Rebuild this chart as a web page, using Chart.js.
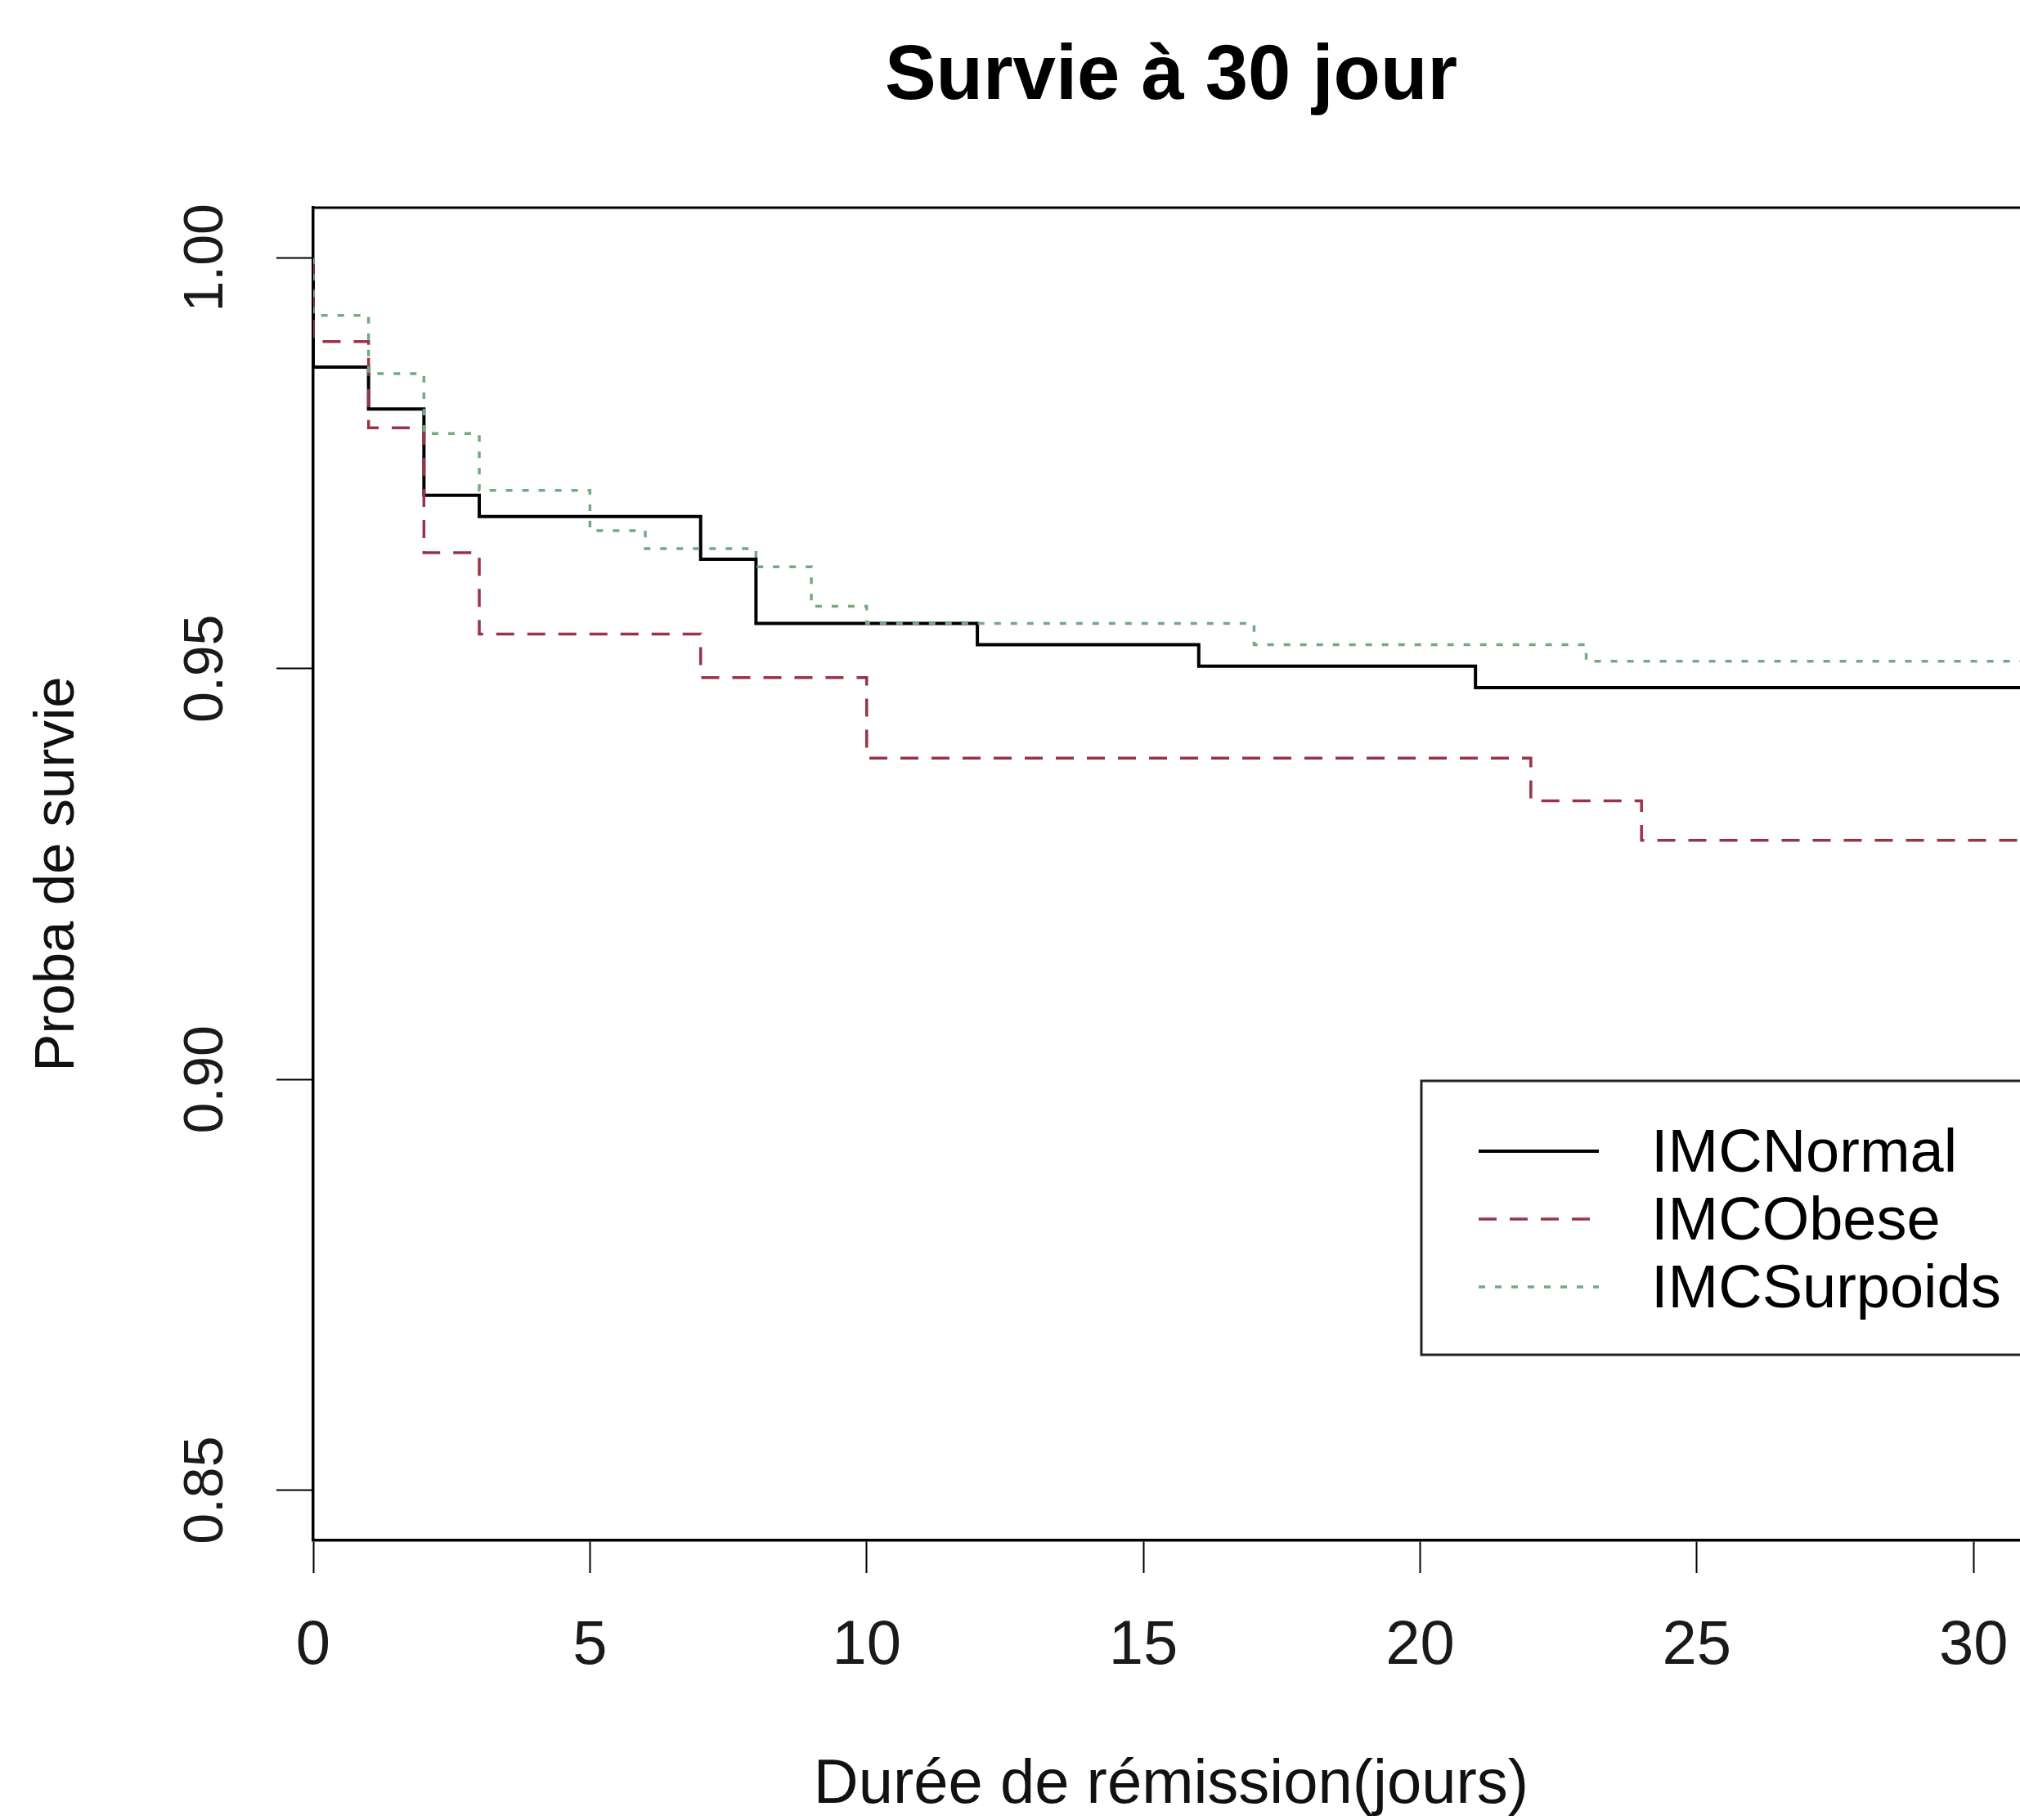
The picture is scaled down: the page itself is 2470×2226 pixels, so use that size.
<!DOCTYPE html>
<html>
<head>
<meta charset="utf-8">
<title>Survie à 30 jour</title>
<script src="https://cdn.jsdelivr.net/npm/chart.js@4.4.1/dist/chart.umd.min.js"></script>
<style>
    html, body { margin: 0; padding: 0; background: #ffffff; overflow: hidden; }
    #wrap { width: 2470px; height: 2226px; overflow: hidden; }
</style>
</head>
<body>
<div id="wrap">
    <canvas id="survChart" width="2500" height="2226"></canvas>
</div>
<script>
// Kaplan-Meier steps (time in days, survival after the drop)
const normalTime = [0, 1, 2, 3, 7, 8, 12, 16, 21];
const normalSurv = [0.9867, 0.9816, 0.9711, 0.9685, 0.9633, 0.9555, 0.9529, 0.9503, 0.9477];

const obeseTime = [0, 1, 2, 3, 7, 10, 22, 24];
const obeseSurv = [0.9898, 0.9793, 0.9641, 0.9542, 0.9489, 0.9391, 0.9339, 0.9291];

const surpoidsTime = [0, 1, 2, 3, 5, 6, 8, 9, 10, 17, 23];
const surpoidsSurv = [0.9930, 0.9859, 0.9786, 0.9717, 0.9668, 0.9646, 0.9624, 0.9576, 0.9555, 0.9529, 0.9509];

const groupLabels = ['IMCNormal', 'IMCObese', 'IMCSurpoids'];
const xTicks = [0, 5, 10, 15, 20, 25, 30];
const yTicks = [0.85, 0.90, 0.95, 1.00];
const lastDay = 31; // curves run on past the right edge of the picture

const FONT = "'Liberation Sans', Arial, Helvetica, sans-serif";

// start every curve at 1 at day 0, then one point per drop, then carry on to the end
function kmPoints(times, surv) {
    const pts = [{ x: 0, y: 1 }];
    times.forEach((t, i) => pts.push({ x: t, y: surv[i] }));
    pts.push({ x: lastDay, y: surv[surv.length - 1] });
    return pts;
}

// title, top edge of the box and the legend (R draws these by hand too)
const rDecorations = {
    id: 'rDecorations',
    afterDraw(chart) {
        const { ctx, chartArea } = chart;
        ctx.save();

        // top side of the plot box (left/bottom are the axis borders)
        ctx.strokeStyle = '#000';
        ctx.lineWidth = 3;
        ctx.beginPath();
        ctx.moveTo(chartArea.left - 1.5, chartArea.top);
        ctx.lineTo(chart.width + 10, chartArea.top);
        ctx.stroke();

        // main title
        ctx.fillStyle = '#000';
        ctx.font = 'bold 94px ' + FONT;
        ctx.textAlign = 'center';
        ctx.textBaseline = 'middle';
        ctx.fillText('Survie à 30 jour', (chartArea.left + chartArea.right) / 2, 95);

        // legend box
        const boxLeft = 1738, boxTop = 1322, boxBottom = 1657;
        ctx.strokeStyle = '#222';
        ctx.lineWidth = 3;
        ctx.strokeRect(boxLeft, boxTop, chart.width + 20 - boxLeft, boxBottom - boxTop);

        const rowY = [1408, 1491, 1574];
        chart.data.datasets.forEach((ds, i) => {
            ctx.strokeStyle = ds.borderColor;
            ctx.lineWidth = ds.borderWidth;
            ctx.setLineDash(ds.borderDash || []);
            ctx.beginPath();
            ctx.moveTo(1808, rowY[i]);
            ctx.lineTo(1955, rowY[i]);
            ctx.stroke();
            ctx.setLineDash([]);

            ctx.fillStyle = '#000';
            ctx.font = '74px ' + FONT;
            ctx.textAlign = 'left';
            ctx.textBaseline = 'middle';
            ctx.fillText(ds.label, 2019, rowY[i] + 5);
        });

        ctx.restore();
    }
};

const ctx = document.getElementById('survChart').getContext('2d');
const survChart = new Chart(ctx, {
    type: 'line',
    data: {
        datasets: [
            {
                label: groupLabels[0],
                data: kmPoints(normalTime, normalSurv),
                borderColor: '#000000',
                borderWidth: 4,
                stepped: 'before',
                pointRadius: 0,
                fill: false,
                order: 3
            },
            {
                label: groupLabels[1],
                data: kmPoints(obeseTime, obeseSurv),
                borderColor: '#9a3348',
                borderWidth: 3.5,
                borderDash: [22, 16],
                stepped: 'before',
                pointRadius: 0,
                fill: false,
                order: 2
            },
            {
                label: groupLabels[2],
                data: kmPoints(surpoidsTime, surpoidsSurv),
                borderColor: '#72ab80',
                borderWidth: 3.5,
                borderDash: [8, 12],
                stepped: 'before',
                pointRadius: 0,
                fill: false,
                order: 1
            }
        ]
    },
    options: {
        responsive: false,
        animation: false,
        events: [],
        layout: { padding: { top: 254, left: 0, right: 15, bottom: 0 } },
        plugins: {
            legend: { display: false },
            tooltip: { enabled: false },
            title: { display: false }
        },
        scales: {
            x: {
                type: 'linear',
                min: 0,
                max: lastDay,
                afterFit: (scale) => { scale.height = 342; },
                afterBuildTicks: (scale) => { scale.ticks = xTicks.map(v => ({ value: v })); },
                border: { display: true, color: '#000', width: 3.5 },
                grid: { drawOnChartArea: false, drawTicks: true, tickLength: 40, tickWidth: 2, tickColor: '#000' },
                ticks: {
                    color: '#1a1a1a',
                    padding: 44,
                    maxRotation: 0,
                    font: { family: FONT, size: 76 }
                },
                title: {
                    display: true,
                    text: 'Durée de rémission(jours)',
                    color: '#111',
                    font: { family: FONT, size: 76, lineHeight: 1 },
                    padding: { top: 0, bottom: 4 }
                }
            },
            y: {
                type: 'linear',
                min: 0.8439,
                max: 1.0061,
                afterFit: (scale) => { scale.width = 383; },
                afterBuildTicks: (scale) => { scale.ticks = yTicks.map(v => ({ value: v })); },
                border: { display: true, color: '#000', width: 3.5 },
                grid: { drawOnChartArea: false, drawTicks: true, tickLength: 45, tickWidth: 2, tickColor: '#000' },
                ticks: {
                    color: '#1a1a1a',
                    padding: 19,
                    minRotation: 90,
                    maxRotation: 90,
                    crossAlign: 'center',
                    font: { family: FONT, size: 68 },
                    callback: (v) => Number(v).toFixed(2)
                },
                title: {
                    display: true,
                    text: 'Proba de survie',
                    color: '#111',
                    font: { family: FONT, size: 69, lineHeight: 1 },
                    padding: { top: 36, bottom: 0 }
                }
            }
        }
    },
    plugins: [rDecorations]
});
</script>
</body>
</html>
